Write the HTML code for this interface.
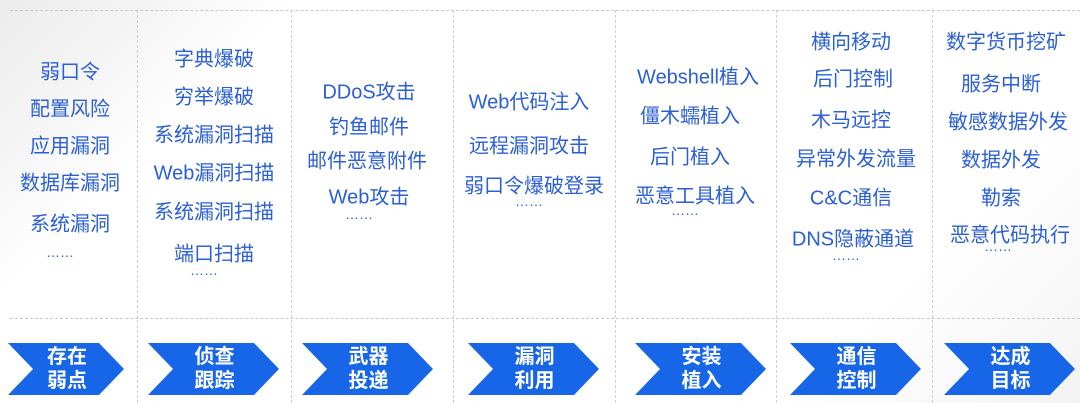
<!DOCTYPE html>
<html><head><meta charset="utf-8"><style>
body{margin:0;width:1080px;height:403px;overflow:hidden;background:#fff;position:relative;font-family:"Liberation Sans","Noto Sans CJK SC",sans-serif}
.bg{position:absolute;inset:0;background:linear-gradient(135deg,#ececec 0%,#f6f6f6 12%,#fff 20%,#fff 80%,#f3f3f3 100%)}
.h{position:absolute;left:10px;width:1070px;border-top:1px dashed #c8c8c8}
.v{position:absolute;top:10px;height:393px;border-left:1px dashed #cfcfcf}
.t{position:absolute;transform:translate(-50%,-50%);color:#2a5fd6;font-size:20px;white-space:nowrap}
.a{position:absolute;top:343px;height:52px}
.a svg{position:absolute;left:0;top:0}
.a div{position:absolute;left:0;right:0;top:2px;text-align:center;color:#fff;font-weight:bold;font-size:20px;line-height:24px;padding-left:2px}
</style></head><body>
<div class="bg"></div>
<div class="h" style="top:10px"></div>
<div class="h" style="top:318px"></div>
<div class="v" style="left:137px"></div><div class="v" style="left:291px"></div><div class="v" style="left:453px"></div><div class="v" style="left:615px"></div><div class="v" style="left:776px"></div><div class="v" style="left:932px"></div>

<div class="t" style="left:70px;top:70px">弱口令</div>
<div class="t" style="left:70px;top:107px">配置风险</div>
<div class="t" style="left:70px;top:144px">应用漏洞</div>
<div class="t" style="left:70px;top:181px">数据库漏洞</div>
<div class="t" style="left:70px;top:222px">系统漏洞</div>
<div class="t" style="left:60px;top:252px;font-size:14px">……</div>

<div class="t" style="left:214px;top:57px">字典爆破</div>
<div class="t" style="left:214px;top:95px">穷举爆破</div>
<div class="t" style="left:214px;top:133px">系统漏洞扫描</div>
<div class="t" style="left:214px;top:171px">Web漏洞扫描</div>
<div class="t" style="left:214px;top:210px">系统漏洞扫描</div>
<div class="t" style="left:214px;top:252px">端口扫描</div>
<div class="t" style="left:204px;top:270px;font-size:14px">……</div>

<div class="t" style="left:369px;top:90px">DDoS攻击</div>
<div class="t" style="left:369px;top:125px">钓鱼邮件</div>
<div class="t" style="left:367px;top:159px">邮件恶意附件</div>
<div class="t" style="left:369px;top:195px">Web攻击</div>
<div class="t" style="left:359px;top:214px;font-size:14px">……</div>

<div class="t" style="left:529px;top:100px">Web代码注入</div>
<div class="t" style="left:529px;top:144px">远程漏洞攻击</div>
<div class="t" style="left:534px;top:184px">弱口令爆破登录</div>
<div class="t" style="left:529px;top:201px;font-size:14px">……</div>

<div class="t" style="left:698px;top:75px">Webshell植入</div>
<div class="t" style="left:690px;top:114px">僵木蠕植入</div>
<div class="t" style="left:690px;top:155px">后门植入</div>
<div class="t" style="left:695px;top:194px">恶意工具植入</div>
<div class="t" style="left:685px;top:210px;font-size:14px">……</div>

<div class="t" style="left:851px;top:40px">横向移动</div>
<div class="t" style="left:853px;top:77px">后门控制</div>
<div class="t" style="left:851px;top:118px">木马远控</div>
<div class="t" style="left:856px;top:157px">异常外发流量</div>
<div class="t" style="left:851px;top:196px">C&amp;C通信</div>
<div class="t" style="left:853px;top:237px">DNS隐蔽通道</div>
<div class="t" style="left:846px;top:255px;font-size:14px">……</div>

<div class="t" style="left:1006px;top:40px">数字货币挖矿</div>
<div class="t" style="left:1001px;top:82px">服务中断</div>
<div class="t" style="left:1008px;top:120px">敏感数据外发</div>
<div class="t" style="left:1001px;top:158px">数据外发</div>
<div class="t" style="left:1001px;top:196px">勒索</div>
<div class="t" style="left:1010px;top:233px">恶意代码执行</div>
<div class="t" style="left:998px;top:246px;font-size:14px">……</div>

<div class="a" style="left:8px;width:116px"><svg width="116" height="52"><polygon points="0,0 91,0 116,26 91,52 0,52 25,26" fill="#1766e8"/></svg><div>存在<br>弱点</div></div>
<div class="a" style="left:148px;width:131px"><svg width="131" height="52"><polygon points="0,0 106,0 131,26 106,52 0,52 25,26" fill="#1766e8"/></svg><div>侦查<br>跟踪</div></div>
<div class="a" style="left:302px;width:131px"><svg width="131" height="52"><polygon points="0,0 106,0 131,26 106,52 0,52 25,26" fill="#1766e8"/></svg><div>武器<br>投递</div></div>
<div class="a" style="left:468px;width:131px"><svg width="131" height="52"><polygon points="0,0 106,0 131,26 106,52 0,52 25,26" fill="#1766e8"/></svg><div>漏洞<br>利用</div></div>
<div class="a" style="left:635px;width:131px"><svg width="131" height="52"><polygon points="0,0 106,0 131,26 106,52 0,52 25,26" fill="#1766e8"/></svg><div>安装<br>植入</div></div>
<div class="a" style="left:790px;width:131px"><svg width="131" height="52"><polygon points="0,0 106,0 131,26 106,52 0,52 25,26" fill="#1766e8"/></svg><div>通信<br>控制</div></div>
<div class="a" style="left:944px;width:131px"><svg width="131" height="52"><polygon points="0,0 106,0 131,26 106,52 0,52 25,26" fill="#1766e8"/></svg><div>达成<br>目标</div></div>
</body></html>
